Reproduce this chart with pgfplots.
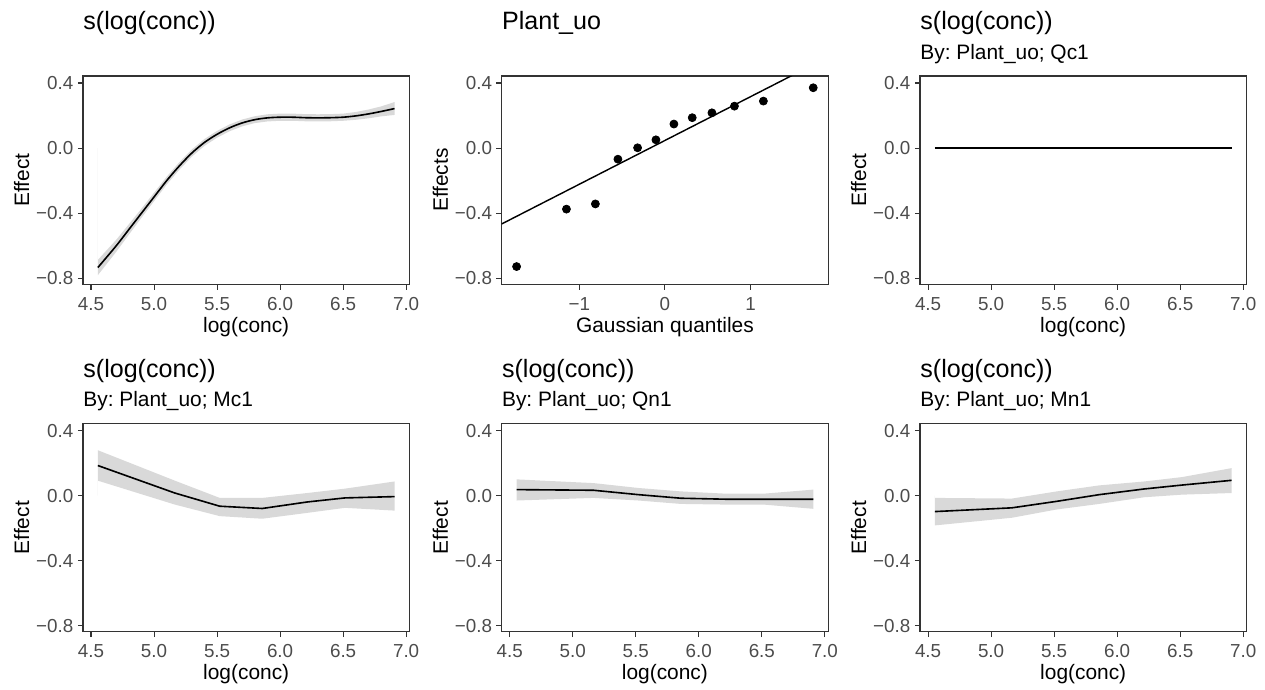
\documentclass[border=0pt]{standalone}
\usepackage{fontspec}
\setmainfont{Liberation Sans}
\usepackage{pgfplots}
\pgfplotsset{compat=1.18}
\definecolor{bandgray}{gray}{0.85}
\definecolor{axgray}{gray}{0.2}
\definecolor{tickgray}{gray}{0.3}
\frenchspacing
\begin{document}
\begin{tikzpicture}
\path[use as bounding box] (0pt,0pt) rectangle (665.79pt,362.63pt);
\pgfplotsset{
  gg/.style={
    scale only axis, width=171.8pt, height=109.6pt,
    anchor=south west,
    axis line style={draw=axgray, line width=0.6pt},
    tick align=outside, major tick length=2.75pt,
    every tick/.style={draw=axgray, line width=0.6pt},
    xtick pos=bottom, ytick pos=left,
    ymin=-0.837, ymax=0.443,
    ytick={-0.8,-0.4,0,0.4},
    yticklabels={−0.8,−0.4,0.0,0.4},
    tick label style={font=\fontsize{9.9}{11}\selectfont, text=tickgray},
    xticklabel style={anchor=center, yshift=-7.6pt},
    yticklabel style={anchor=east, xshift=1.2pt},
    label style={font=\fontsize{11}{13}\selectfont},
    ylabel={Effect},
    xlabel style={at={([yshift=-22.3pt]axis description cs:0.5,0)}, anchor=center},
    ylabel style={at={([xshift=-32.3pt]axis description cs:0,0.5)}, anchor=center},
    clip=true,
  },
  sm/.style={gg, xmin=4.436, xmax=7.026, xtick={4.5,5,5.5,6,6.5,7},
    xticklabels={4.5,5.0,5.5,6.0,6.5,7.0}, xlabel={log(conc)}},
  band/.style={fill=bandgray, draw=none},
  curve/.style={black, line width=0.85pt},
}
\tikzset{ttl/.style={anchor=base west, inner sep=0pt, font=\fontsize{13.2}{15}\selectfont},
         sub/.style={anchor=base west, inner sep=0pt, font=\fontsize{11}{13}\selectfont}}

% ---------- Panel 1 ----------
\begin{axis}[sm, at={(43.68pt,213.0pt)}]
\addplot[band] coordinates {
(4.554,-0.781)(4.7,-0.637)(4.8,-0.532)(4.9,-0.428)(5.0,-0.326)(5.1,-0.224)(5.2,-0.133)(5.3,-0.052)
(5.4,0.014)(5.5,0.064)(5.6,0.104)(5.7,0.134)(5.8,0.154)(5.9,0.164)(6.0,0.168)(6.1,0.168)
(6.2,0.165)(6.3,0.164)(6.4,0.165)(6.5,0.168)(6.6,0.174)(6.7,0.183)(6.8,0.195)(6.908,0.204)
(6.908,0.283)(6.8,0.256)(6.7,0.237)(6.6,0.222)(6.5,0.212)(6.4,0.209)(6.3,0.208)(6.2,0.209)
(6.1,0.212)(6.0,0.212)(5.9,0.208)(5.8,0.196)(5.7,0.176)(5.6,0.146)(5.5,0.106)(5.4,0.056)
(5.3,-0.008)(5.2,-0.087)(5.1,-0.176)(5.0,-0.274)(4.9,-0.372)(4.8,-0.468)(4.7,-0.563)(4.554,-0.687)
} \closedcycle;
\addplot[curve, smooth] coordinates {
(4.554,-0.734)(4.7,-0.600)(4.8,-0.500)(4.9,-0.400)(5.0,-0.300)(5.1,-0.200)(5.2,-0.110)(5.3,-0.030)
(5.4,0.035)(5.5,0.085)(5.6,0.125)(5.7,0.155)(5.8,0.175)(5.9,0.186)(6.0,0.190)(6.1,0.190)
(6.2,0.187)(6.3,0.186)(6.4,0.187)(6.5,0.190)(6.6,0.198)(6.7,0.210)(6.8,0.225)(6.908,0.243)
};
\end{axis}
\node[ttl] at (43.68pt,346.9pt) {s(log(conc))};

% ---------- Panel 2 ----------
\begin{axis}[gg, at={(264.05pt,213.0pt)}, xmin=-1.906, xmax=1.906,
  xtick={-1,0,1}, xticklabels={−1,0,1}, xlabel={Gaussian quantiles}, ylabel={Effects}]
\addplot[curve, line width=0.75pt] coordinates {(-1.906,-0.466)(1.906,0.560)};
\addplot[only marks, mark=*, mark size=2.1pt, black] coordinates {
(-1.732,-0.728)(-1.150,-0.375)(-0.812,-0.343)(-0.549,-0.068)(-0.319,0.002)(-0.105,0.051)
(0.105,0.148)(0.319,0.187)(0.549,0.217)(0.812,0.258)(1.150,0.289)(1.732,0.371)
};
\end{axis}
\node[ttl] at (264.05pt,346.9pt) {Plant\_uo};

% ---------- Panel 3 ----------
\begin{axis}[sm, at={(484.21pt,213.0pt)}]
\addplot[band] coordinates {(4.554,-0.003)(6.908,-0.003)(6.908,0.003)(4.554,0.003)} \closedcycle;
\addplot[curve, line width=0.95pt] coordinates {(4.554,0)(5.165,0)(5.521,0)(5.858,0)(6.215,0)(6.515,0)(6.908,0)};
\end{axis}
\node[ttl] at (484.21pt,346.9pt) {s(log(conc))};
\node[sub] at (484.21pt,331.4pt) {By: Plant\_uo; Qc1};

% ---------- Panel 4 ----------
\begin{axis}[sm, at={(43.68pt,30.1pt)}]
\addplot[band] coordinates {
(4.554,0.092)(5.165,-0.055)(5.521,-0.126)(5.858,-0.142)(6.215,-0.106)(6.515,-0.075)(6.908,-0.092)
(6.908,0.087)(6.515,0.043)(6.215,0.016)(5.858,-0.014)(5.521,-0.014)(5.165,0.092)(4.554,0.279)
} \closedcycle;
\addplot[curve] coordinates {
(4.554,0.185)(5.165,0.016)(5.521,-0.065)(5.858,-0.079)(6.215,-0.039)(6.515,-0.014)(6.908,-0.006)
};
\end{axis}
\node[ttl] at (43.68pt,164.2pt) {s(log(conc))};
\node[sub] at (43.68pt,148.6pt) {By: Plant\_uo; Mc1};

% ---------- Panel 5 ----------
\begin{axis}[sm, at={(264.05pt,30.1pt)}]
\addplot[band] coordinates {
(4.554,-0.030)(5.165,-0.014)(5.521,-0.030)(5.858,-0.051)(6.215,-0.055)(6.515,-0.055)(6.908,-0.081)
(6.908,0.037)(6.515,0.012)(6.215,0.012)(5.858,0.026)(5.521,0.047)(5.165,0.077)(4.554,0.100)
} \closedcycle;
\addplot[curve] coordinates {
(4.554,0.037)(5.165,0.033)(5.521,0.006)(5.858,-0.016)(6.215,-0.022)(6.515,-0.022)(6.908,-0.022)
};
\end{axis}
\node[ttl] at (264.05pt,164.2pt) {s(log(conc))};
\node[sub] at (264.05pt,148.6pt) {By: Plant\_uo; Qn1};

% ---------- Panel 6 ----------
\begin{axis}[sm, at={(484.21pt,30.1pt)}]
\addplot[band] coordinates {
(4.554,-0.183)(5.165,-0.136)(5.521,-0.085)(5.858,-0.051)(6.215,-0.010)(6.515,0.006)(6.908,0.016)
(6.908,0.169)(6.515,0.114)(6.215,0.087)(5.858,0.063)(5.521,0.026)(5.165,-0.018)(4.554,-0.014)
} \closedcycle;
\addplot[curve] coordinates {
(4.554,-0.098)(5.165,-0.075)(5.521,-0.035)(5.858,0.006)(6.215,0.041)(6.515,0.065)(6.908,0.094)
};
\end{axis}
\node[ttl] at (484.21pt,164.2pt) {s(log(conc))};
\node[sub] at (484.21pt,148.6pt) {By: Plant\_uo; Mn1};
\end{tikzpicture}
\end{document}
